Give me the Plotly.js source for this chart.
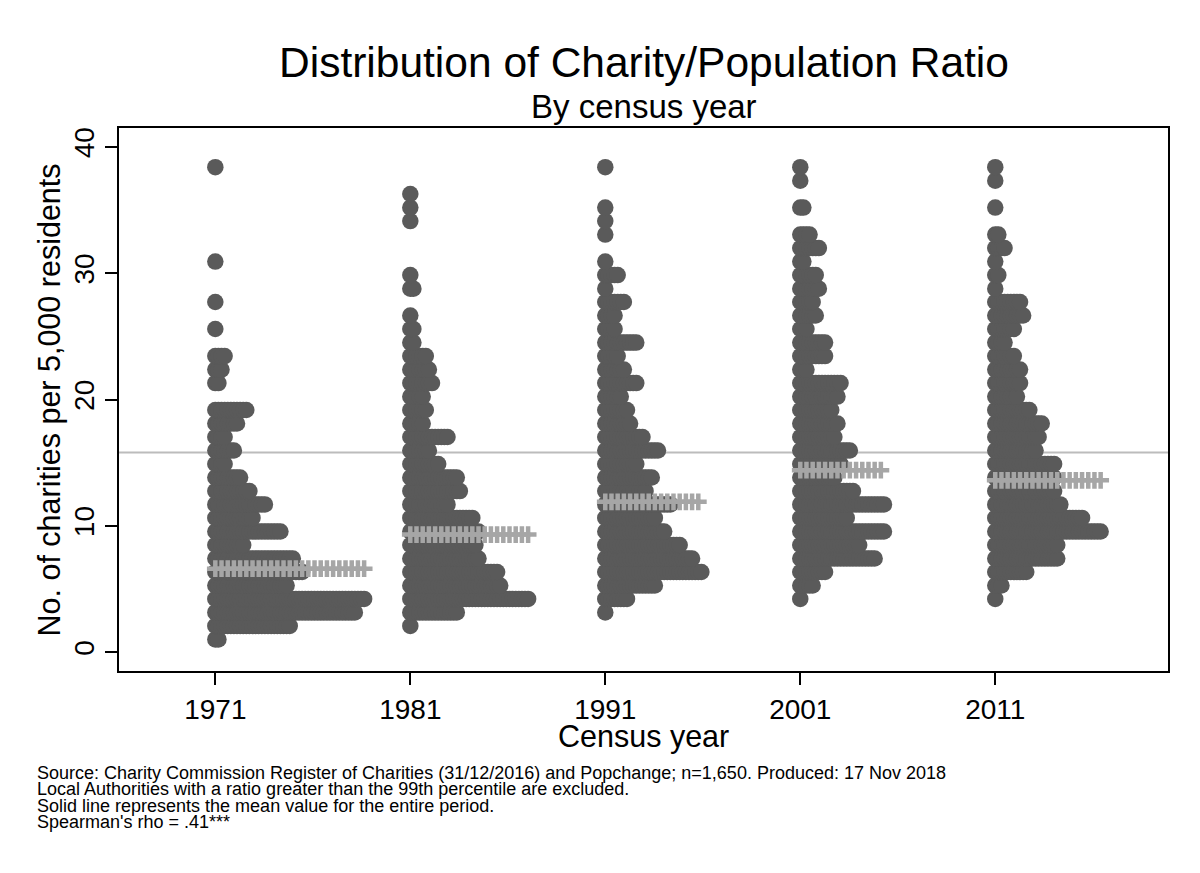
<!DOCTYPE html>
<html>
<head>
<meta charset="utf-8">
<script src="https://cdn.plot.ly/plotly-3.0.1.min.js"></script>
<style>body{margin:0;background:#fff}</style>
</head>
<body>
<div id="dotChart" style="width:1200px;height:873px"></div>
<script>
var years = ['1971', '1981', '1991', '2001', '2011'];

// bin centres of the dot plot (charities per 5,000 residents)
var binValues = [1.00, 2.07, 3.14, 4.21, 5.27, 6.34, 7.41, 8.48, 9.55, 10.62,
                 11.69, 12.75, 13.82, 14.89, 15.96, 17.03, 18.10, 19.17, 20.23, 21.30,
                 22.37, 23.44, 24.51, 25.58, 26.65, 27.72, 28.78, 29.85, 30.92, 31.99,
                 33.06, 34.13, 35.20, 36.27, 37.33, 38.40];

// number of local authorities in each bin
var counts1971 = [2, 25, 46, 49, 24, 29, 26, 10, 22, 13, 17, 12, 9, 4, 7, 4, 8, 11, 0, 2,
                  3, 4, 0, 1, 0, 1, 0, 0, 1, 0, 0, 0, 0, 0, 0, 1];
var counts1981 = [0, 1, 16, 39, 30, 29, 23, 22, 23, 21, 13, 17, 16, 10, 7, 13, 5, 6, 5, 8,
                  7, 6, 2, 2, 1, 0, 2, 1, 0, 0, 0, 1, 1, 1, 0, 0];
var counts1991 = [0, 0, 1, 8, 17, 32, 29, 25, 20, 17, 22, 14, 16, 11, 18, 13, 9, 8, 6, 11,
                  7, 5, 11, 4, 4, 7, 1, 5, 1, 0, 1, 1, 1, 0, 0, 1];
var counts2001 = [0, 0, 0, 1, 5, 9, 25, 20, 28, 16, 28, 18, 12, 14, 17, 12, 13, 11, 13, 14,
                  3, 9, 9, 3, 6, 5, 7, 6, 2, 7, 4, 0, 2, 0, 1, 1];
var counts2011 = [0, 0, 0, 1, 3, 11, 21, 21, 35, 29, 22, 20, 20, 20, 14, 15, 16, 12, 8, 9,
                  9, 7, 4, 7, 10, 9, 1, 2, 1, 4, 2, 0, 1, 0, 1, 1];

var medians = [6.6, 9.3, 11.9, 14.4, 13.6];
var overallMean = 15.8;

var footnotes = [
  'Source: Charity Commission Register of Charities (31/12/2016) and Popchange; n=1,650. Produced: 17 Nov 2018',
  'Local Authorities with a ratio greater than the 99th percentile are excluded.',
  'Solid line represents the mean value for the entire period.',
  "Spearman's rho = .41***"
];

var font = 'Liberation Sans, Arial, sans-serif';
var dotStep = 0.0159;   // sideways offset between stacked dots, in category units

var countsByYear = [counts1971, counts1981, counts1991, counts2001, counts2011];
var traces = [];

countsByYear.forEach(function (counts, i) {
  var xs = [], ys = [];
  counts.forEach(function (n, k) {
    for (var j = 0; j < n; j++) {
      xs.push(i + j * dotStep);
      ys.push(binValues[k]);
    }
  });
  traces.push({
    x: xs, y: ys, type: 'scatter', mode: 'markers',
    marker: {size: 16.5, color: '#5a5a5a', line: {width: 0}},
    hoverinfo: 'skip', showlegend: false
  });
});

// row of pluses at the median, as wide as the longest row of that year
countsByYear.forEach(function (counts, i) {
  var widest = Math.max.apply(null, counts);
  var xs = [], ys = [];
  for (var j = 0; j < widest; j += 2) {
    xs.push(i + j * dotStep);
    ys.push(medians[i]);
  }
  traces.push({
    x: xs, y: ys, type: 'scatter', mode: 'markers',
    marker: {symbol: 'cross-thin', size: 12, line: {width: 4.5, color: '#a6a6a6'}},
    hoverinfo: 'skip', showlegend: false
  });
});

var annotations = [
  {text: 'Distribution of Charity/Population Ratio', x: 0.5, y: 1.1215,
   font: {size: 42.5, color: '#000'}},
  {text: 'By census year', x: 0.5, y: 1.0387, font: {size: 33, color: '#000'}},
  {text: 'Census year', x: 0.5, y: -0.1215, font: {size: 30.5, color: '#000'}},
  {text: 'No. of charities per 5,000 residents', x: -0.0658, y: 0.5, textangle: -90,
   font: {size: 30.5, color: '#000'}}
];
footnotes.forEach(function (line, n) {
  annotations.push({
    text: line, x: -0.0805, xanchor: 'left', y: (671 - (773 + n * 16.4)) / 543,
    font: {size: 18, color: '#000'}
  });
});
annotations.forEach(function (a) {
  a.xref = 'paper'; a.yref = 'paper'; a.showarrow = false;
  if (!a.xanchor) a.xanchor = 'center';
  a.yanchor = 'middle';
});

var layout = {
  width: 1200, height: 873,
  margin: {l: 119, r: 32, t: 128, b: 202, pad: 0},
  paper_bgcolor: '#fff', plot_bgcolor: '#fff',
  font: {family: font, color: '#000'},
  xaxis: {
    range: [-0.494, 4.886], tickvals: [0, 1, 2, 3, 4], ticktext: years,
    ticks: 'outside', ticklen: 12, tickwidth: 2, tickcolor: '#000',
    tickfont: {size: 28}, showgrid: false, zeroline: false,
    showline: true, mirror: true, linecolor: '#000', linewidth: 2
  },
  yaxis: {
    range: [-1.5, 41.5], tickvals: [0, 10, 20, 30, 40], tickangle: -90,
    ticks: 'outside', ticklen: 12, tickwidth: 2, tickcolor: '#000',
    tickfont: {size: 28}, showgrid: false, zeroline: false,
    showline: true, mirror: true, linecolor: '#000', linewidth: 2
  },
  shapes: [{
    type: 'line', xref: 'paper', x0: 0, x1: 1, y0: overallMean, y1: overallMean,
    line: {color: '#bcbcbc', width: 2}, layer: 'below'
  }],
  annotations: annotations
};

Plotly.newPlot('dotChart', traces, layout, {staticPlot: true});
</script>
</body>
</html>
